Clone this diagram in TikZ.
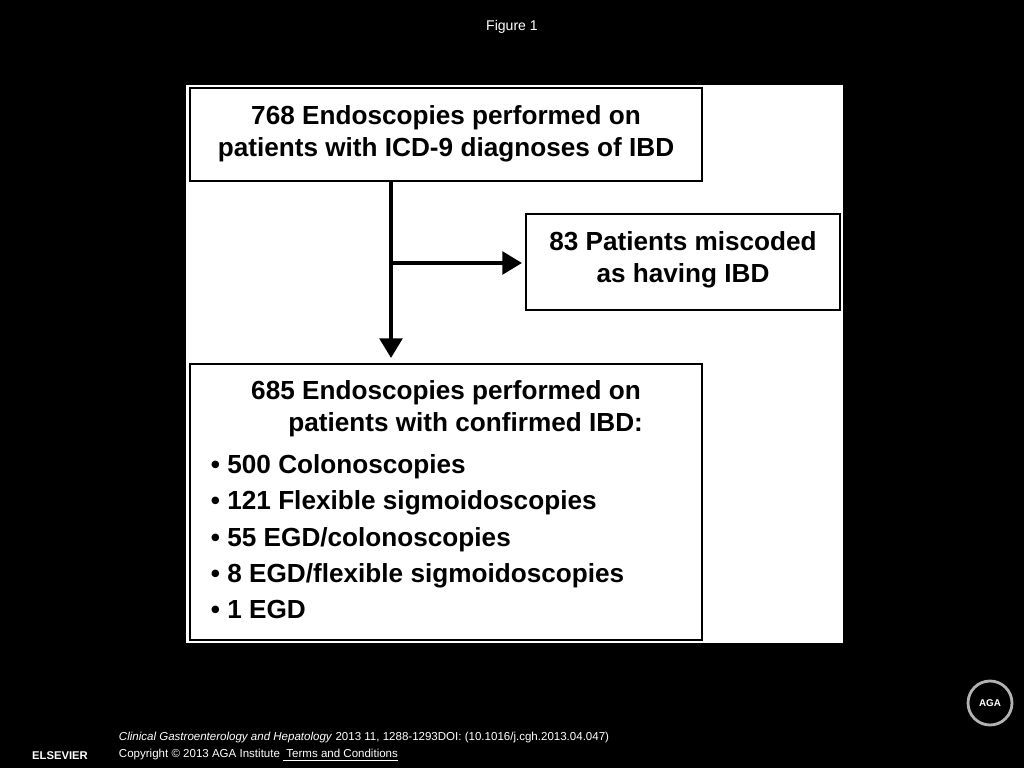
\documentclass[tikz,border=0pt]{standalone}
\usepackage{fontspec}
\setmainfont{Liberation Sans}
\usetikzlibrary{arrows.meta}

\begin{document}
\begin{tikzpicture}[x=0.025cm,y=-0.025cm,
  flowbox/.style={draw,line width=1.6pt,fill=white},
  boxtext/.style={font=\fontsize{18.6}{23}\selectfont\bfseries,align=center},
  itemtext/.style={font=\fontsize{18.6}{23}\selectfont\bfseries,anchor=base west},
  flowarrow/.style={line width=3pt,-{Triangle[length=14pt,width=16pt]}}]
\fill[black] (0,0) rectangle (1024,768);
\useasboundingbox (0,0) rectangle (1024,768);
\node[white,font=\fontsize{10}{12}\selectfont] (title) at (512,27) {Figure 1};
% panel
\fill[white] (186,85) rectangle (843,643);
% boxes
\draw[flowbox] (190,88) rectangle (702,181);
\draw[flowbox] (526,214) rectangle (840,310);
\draw[flowbox] (190,364) rectangle (702,640);
\node[boxtext] (top) at (446,134) {768 Endoscopies performed on\\patients with ICD-9 diagnoses of IBD};
\node[boxtext] (miscoded) at (683,260) {83 Patients miscoded\\as having IBD};
\node[boxtext] (confirmed) at (446,409) {685 Endoscopies performed on\\\hspace*{1.5em}patients with confirmed IBD:};
\foreach \y/\t in {463/{500 Colonoscopies},499/{121 Flexible sigmoidoscopies},536/{55 EGD/colonoscopies},572/{8 EGD/flexible sigmoidoscopies},608/{1 EGD}}
  \node[itemtext] at (206,\y+10) {• \t};
% connectors
\coordinate (split) at (391,263);
\coordinate (mtip) at (522,263);
\coordinate (ctip) at (391,358);
\draw[line width=3pt] (391,181) -- (split);
\draw[flowarrow] (split) -- (ctip);
\draw[flowarrow] (split) -- (mtip);
% footer
\node[white,anchor=west,font=\fontsize{8.2}{9}\selectfont] (cite) at (114,738) {\textit{Clinical Gastroenterology and Hepatology} 2013 11, 1288-1293DOI: (10.1016/j.cgh.2013.04.047)};
\node[white,anchor=west,font=\fontsize{8.2}{9}\selectfont] (copy) at (114,755) {Copyright © 2013 AGA Institute \underline{ Terms and Conditions}};
\node[white,font=\fontsize{8}{9}\selectfont\bfseries] (elsevier) at (60,756) {ELSEVIER};
\draw[gray!60,line width=2pt] (990,703) circle (22);
\node[white,font=\fontsize{7}{8}\selectfont\bfseries] (aga) at (990,703) {AGA};
\end{tikzpicture}
\end{document}
